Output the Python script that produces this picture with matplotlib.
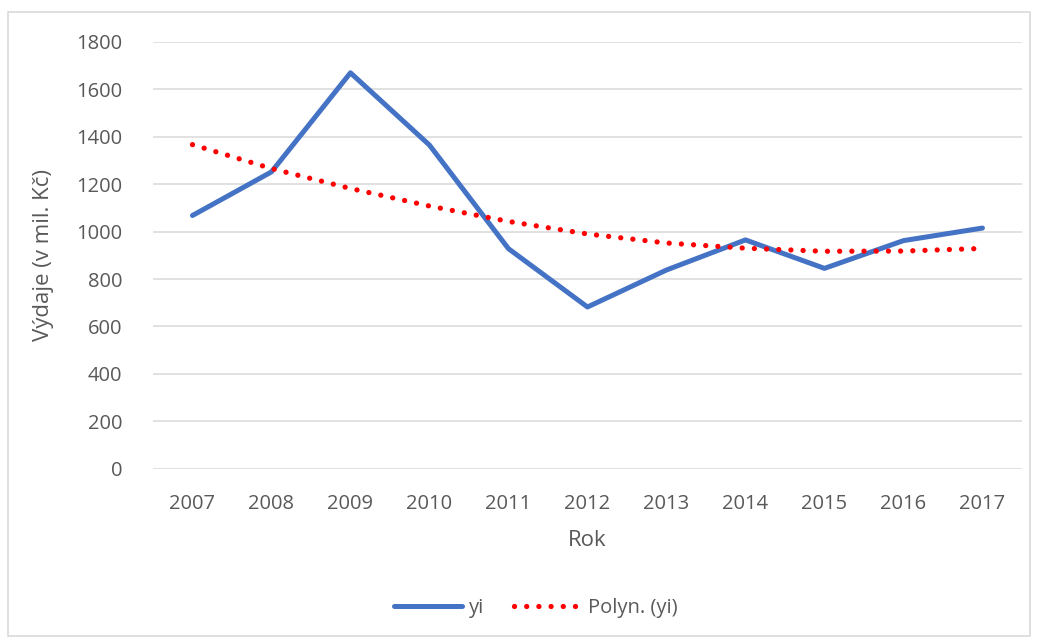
import numpy as np
import matplotlib
matplotlib.use('Agg')
import matplotlib.pyplot as plt
from matplotlib.patches import Rectangle

plt.rcParams['font.family'] = ['Open Sans', 'DejaVu Sans']

# =============================================================================
# DATA
# =============================================================================

years = ['2007', '2008', '2009', '2010', '2011', '2012',
         '2013', '2014', '2015', '2016', '2017']
yi = [1068, 1252, 1670, 1365, 928, 682, 838, 965, 845, 962, 1015]
trend = [1367, 1266, 1182, 1108, 1043, 990, 952, 930, 917, 918, 929]

# =============================================================================
# PLOT
# =============================================================================

gray = '#595959'
tickssize = 14.5
labelsize = 16

fig = plt.figure(figsize=(10.37, 6.42), dpi=100)
ax = fig.add_axes([0.1475, 0.270, 0.838, 0.6646])

# chart border
fig.patches.append(Rectangle((8/1037, 1 - 636/642), 1022/1037, 624/642,
                             transform=fig.transFigure, fill=False,
                             edgecolor='#d9d9d9', linewidth=1.2))

x = np.arange(len(years))
ax.plot(x, yi, color='#4472c4', linewidth=3.6, solid_capstyle='round',
        solid_joinstyle='round', label='yi', zorder=3)
ax.plot(x, trend, color='#ff0000', linewidth=3.8, linestyle=(0, (0.01, 2.3)),
        dash_capstyle='round', label='Polyn. (yi)', zorder=4)

ax.set_xlim(-0.5, len(years) - 0.5)
ax.set_ylim(0, 1800)
ax.set_yticks(np.arange(0, 1801, 200))
ax.set_xticks(x)
ax.set_xticklabels(years)
ax.grid(axis='y', color='#d9d9d9', linewidth=1.1)
ax.set_axisbelow(True)
for s in ax.spines.values():
    s.set_visible(False)
ax.tick_params(axis='both', length=0, labelsize=tickssize, labelcolor=gray)
ax.tick_params(axis='x', pad=18)
ax.tick_params(axis='y', pad=22)

ax.set_xlabel('Rok', fontsize=labelsize, color=gray, labelpad=12)
ax.set_ylabel('Výdaje (v mil. Kč)', fontsize=labelsize, color=gray, labelpad=16)

ax.legend(loc='center', bbox_to_anchor=(536/1037, 1 - 608/642),
          bbox_transform=fig.transFigure, ncol=2, frameon=False,
          fontsize=tickssize, labelcolor=gray, handlelength=3.4,
          columnspacing=1.5, handletextpad=0.3)

plt.savefig('out.png', dpi=100)
